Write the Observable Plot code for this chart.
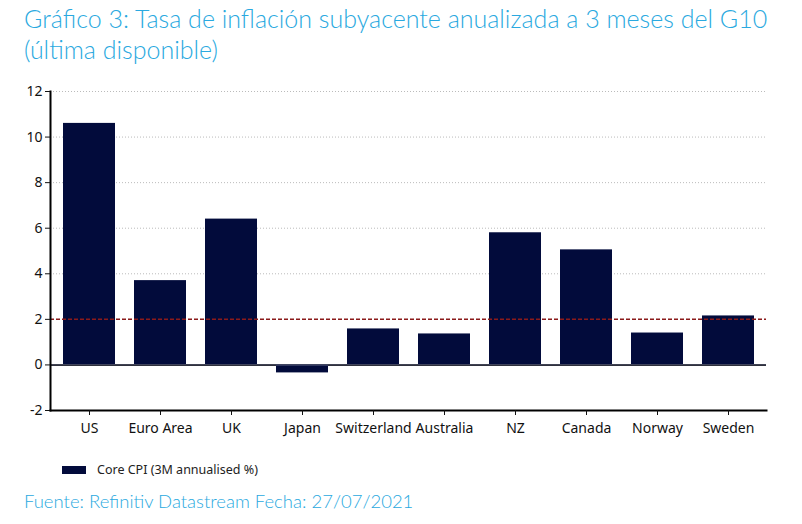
<!DOCTYPE html>
<html><head><meta charset="utf-8">
<script src="https://cdn.jsdelivr.net/npm/d3@7"></script>
<script src="https://cdn.jsdelivr.net/npm/@observablehq/plot@0.6"></script>
<style>
body{margin:0;background:#fff;width:802px;height:524px;position:relative;overflow:hidden;font-family:"Noto Sans",sans-serif;}
#title{position:absolute;left:24px;top:3px;font-family:Lato,sans-serif;font-weight:300;font-size:25px;line-height:31px;color:#2aa9e0;white-space:nowrap;}
#chart{position:absolute;left:0;top:80px;}
#legend{position:absolute;left:62px;top:461px;font-size:12.5px;color:#222;display:flex;align-items:center;}
#legend .sw{width:24px;height:8px;background:#020b3b;margin-right:11px;}
#source{position:absolute;left:24px;top:490px;font-family:Lato,sans-serif;font-weight:300;font-size:18.5px;color:#2aa9e0;white-space:nowrap;}
</style></head><body>
<div id="title">Gráfico 3: Tasa de inflación subyacente anualizada a 3 meses del G10<br>(última disponible)</div>
<div id="chart"></div>
<div id="legend"><div class="sw"></div><span>Core CPI (3M annualised %)</span></div>
<div id="source">Fuente: Refinitiv Datastream Fecha: 27/07/2021</div>
<script>
const countries = ["US","Euro Area","UK","Japan","Switzerland","Australia","NZ","Canada","Norway","Sweden"];
const coreCPI = [10.6, 3.7, 6.4, -0.35, 1.58, 1.36, 5.8, 5.05, 1.4, 2.15];
const yTicks = [-2,0,2,4,6,8,10,12];
const target = 2;
const data = countries.map((c,i)=>({country:c, value:coreCPI[i]}));
const chart = Plot.plot({
  width: 802, height: 360,
  marginLeft: 50, marginRight: 36, marginTop: 11, marginBottom: 30,
  style: {fontFamily: "Noto Sans, sans-serif", fontSize: "14px", color: "#111"},
  x: {domain: countries, paddingInner: 0.27, paddingOuter: 0.175, label: null},
  y: {domain: [-2, 12], label: null},
  marks: [
    Plot.gridY(yTicks.filter(d=>d>-2), {stroke: "#bbb", strokeOpacity: 1, strokeDasharray: "1,2"}),
    Plot.ruleY([0], {stroke: "#000", strokeWidth: 2}),
    Plot.barY(data, {x: "country", y: "value", fill: "#020b3b"}),
    Plot.ruleY([0], {stroke: "#6f7590", strokeWidth: 1}),
    Plot.ruleY([target], {stroke: "#8b1a1a", strokeWidth: 1.5, strokeDasharray: "4,2"}),
    Plot.frame({anchor: "bottom", stroke: "#000", strokeWidth: 2}),
    Plot.frame({anchor: "left", stroke: "#000", strokeWidth: 2}),
    Plot.axisY({ticks: yTicks, tickSize: 5, tickPadding: 3, tickFormat: d=>d}),
    Plot.axisX({tickSize: 5, tickPadding: 8})
  ]
});
document.getElementById("chart").appendChild(chart);
</script>
</body></html>
